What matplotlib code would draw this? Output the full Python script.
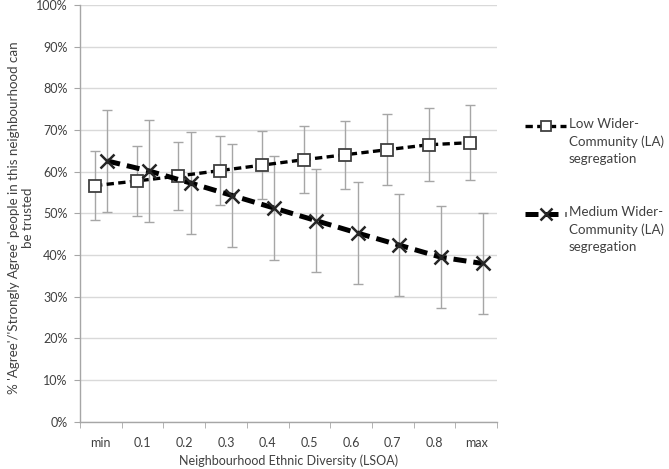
import matplotlib
matplotlib.use("Agg")
import matplotlib.pyplot as plt
from matplotlib.lines import Line2D
import numpy as np

plt.rcParams['font.family'] = ['Lato', 'DejaVu Sans']

categories = ["min", "0.1", "0.2", "0.3", "0.4", "0.5", "0.6", "0.7", "0.8", "max"]
low_vals = [56.7, 57.8, 59.0, 60.3, 61.6, 62.9, 64.1, 65.3, 66.5, 67.0]
low_err = [8.3, 8.3, 8.2, 8.2, 8.2, 8.0, 8.2, 8.5, 8.8, 9.0]
med_vals = [62.6, 60.2, 57.3, 54.3, 51.3, 48.3, 45.3, 42.4, 39.5, 38.0]
med_err = [12.2, 12.2, 12.3, 12.3, 12.4, 12.3, 12.3, 12.2, 12.2, 12.1]
y_ticks = [0, 10, 20, 30, 40, 50, 60, 70, 80, 90, 100]
low_label = "Low Wider-\nCommunity (LA)\nsegregation"
med_label = "Medium Wider-\nCommunity (LA)\nsegregation"

FS = 9
TXT = '#404040'

fig = plt.figure(figsize=(6.69, 4.69), dpi=100)
ax = fig.add_axes([0.1196, 0.1006, 0.6234, 0.8884])

x = np.arange(len(categories))
xl = x - 0.14
xm = x + 0.155
ecol = "#A6A6A6"

ax.errorbar(xl, low_vals, yerr=low_err, fmt='none', ecolor=ecol, elinewidth=1,
            capsize=3.5, capthick=1, zorder=2)
ax.errorbar(xm, med_vals, yerr=med_err, fmt='none', ecolor=ecol, elinewidth=1,
            capsize=3.5, capthick=1, zorder=2)
ax.plot(xl, low_vals, color='black', lw=2.4, dashes=(2.2, 1.3), marker='s',
        markersize=8, markerfacecolor='white', markeredgecolor='#404040',
        markeredgewidth=1.3, zorder=4)
ax.plot(xm, med_vals, color='black', lw=3.6, dashes=(2.6, 1.4), marker='x',
        markersize=10.5, markeredgecolor='#262626', markeredgewidth=1.8, zorder=4)

ax.set_xlim(-0.5, len(categories) - 0.5)
ax.set_ylim(0, 100)
ax.set_yticks(y_ticks)
ax.set_yticklabels([f"{v}%" for v in y_ticks])
ax.set_xticks(x)
ax.set_xticklabels(categories)
ax.set_xticks(np.arange(len(categories) + 1) - 0.5, minor=True)
ax.tick_params(axis='x', which='major', length=0, labelsize=FS, pad=11, labelcolor=TXT)
ax.tick_params(axis='x', which='minor', length=4, color='#A6A6A6', direction='out')
ax.tick_params(axis='y', which='major', length=4, color='#A6A6A6', labelsize=FS,
               labelcolor=TXT, pad=5)

ax.yaxis.grid(True, color='#D9D9D9', lw=1)
ax.set_axisbelow(True)
for s in ['top', 'right']:
    ax.spines[s].set_visible(False)
for s in ['left', 'bottom']:
    ax.spines[s].set_color('#A6A6A6')
    ax.spines[s].set_linewidth(1)

ax.set_xlabel("Neighbourhood Ethnic Diversity (LSOA)", fontsize=FS, color=TXT, labelpad=4)
ax.set_ylabel("% 'Agree'/'Strongly Agree' people in this neighbourhood can\nbe trusted",
              fontsize=9.6, color=TXT, linespacing=1.25, va='center', ha='center')
ax.yaxis.set_label_coords(-0.142, 0.49)

# legend
def leg_entry(y_px, label, kind):
    yf = 1 - y_px / 469
    x0, x1 = 525 / 669, 566 / 669
    if kind == 'low':
        fig.add_artist(Line2D([x0, x1], [yf, yf], transform=fig.transFigure, color='black',
                              lw=2.4, dashes=(2.2, 1.3)))
        fig.add_artist(Line2D([(x0 + x1) / 2], [yf], transform=fig.transFigure, marker='s',
                              markersize=7, markerfacecolor='white', markeredgecolor='#404040',
                              markeredgewidth=1.3, lw=0))
    else:
        fig.add_artist(Line2D([x0, x1], [yf, yf], transform=fig.transFigure, color='black',
                              lw=3.6, dashes=(2.6, 1.4)))
        fig.add_artist(Line2D([(x0 + x1) / 2], [yf], transform=fig.transFigure, marker='x',
                              markersize=9, markeredgecolor='#262626', markeredgewidth=1.8, lw=0))
    fig.text(569 / 669, yf + 8 / 469, label, fontsize=FS + 0.6, color=TXT,
             va='top', ha='left', linespacing=1.5)

leg_entry(126, low_label, 'low')
leg_entry(214, med_label, 'med')

fig.savefig("out.png", dpi=100)
